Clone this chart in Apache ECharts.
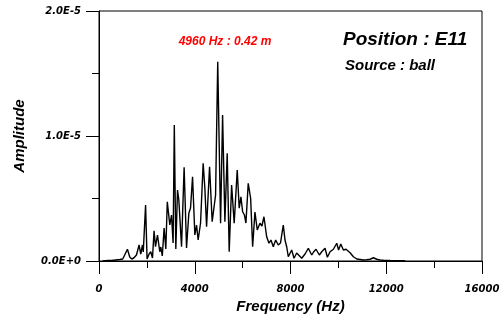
<!DOCTYPE html>
<html>
<head>
<meta charset="utf-8">
<script src="https://cdn.jsdelivr.net/npm/echarts@6/dist/echarts.min.js"></script>
<style>html,body{margin:0;padding:0;background:#fff;}#c{width:504px;height:320px;}</style>
</head>
<body>
<div id="c"></div>
<script>
// Frequency (Hz)
var freqHz = [150,364,531,699,866,992,1075,1188,1284,1368,1452,1565,1619,1674,1745,1816,1849,1946,2008,2092,
  2163,2234,2301,2360,2443,2540,2582,2644,2720,2791,2853,2958,3029,3096,3146,3209,3280,3335,3448,3556,
  3657,3753,3824,3908,4004,4075,4142,4243,4351,4422,4494,4619,4728,4870,4960,5079,5163,5259,5356,5439,
  5540,5648,5774,5858,5929,6000,6075,6138,6234,6335,6418,6515,6611,6724,6807,6891,7004,7100,7184,7280,
  7381,7489,7582,7699,7770,7841,7908,8050,8146,8259,8326,8468,8607,8745,8887,8962,9067,9205,9305,9443,
  9540,9653,9791,9862,9933,10008,10100,10209,10322,10489,10627,10770,10908,11046,11180,11326,11464,11606,11744,11883,
  12163,12498,12791];
// Amplitude in units of 1E-5
var ampE5 = [0,0.004,0.004,0.008,0.012,0.016,0.024,0.094,0.032,0.016,0.024,0.048,0.032,0.128,0.056,0.128,0.072,0.448,0.016,0.056,
  0.074,0.024,0.242,0.114,0.208,0.074,0.112,0.04,0.264,0.096,0.474,0.288,0.368,0.144,1.088,0.096,0.568,0.488,0.114,0.75,
  0.104,0.382,0.424,0.674,0.208,0.288,0.168,0.304,0.782,0.584,0.274,0.754,0.314,0.528,1.594,0.302,1.168,0.314,0.862,0.074,
  0.608,0.302,0.728,0.422,0.514,0.394,0.368,0.304,0.622,0.502,0.114,0.392,0.248,0.302,0.28,0.354,0.194,0.142,0.168,0.114,
  0.168,0.128,0.144,0.288,0.168,0.114,0.034,0.088,0.022,0.064,0.074,0.022,0.056,0.102,0.048,0.072,0.094,0.048,0.074,0.102,
  0.03,0.074,0.094,0.08,0.142,0.088,0.136,0.088,0.094,0.066,0.034,0.016,0.012,0.008,0.01,0.014,0.026,0.014,0.008,0.006,
  0.004,0.003,0.002];
var AMP_UNIT = 1e-5;
var xTickLabels = ['0','4000','8000','12000','16000'];
var yTickLabels = ['0.0E+0','1.0E-5','2.0E-5'];
var annotation = '4960 Hz : 0.42 m';
var titleText = 'Position : E11';
var sourceText = 'Source : ball';

var data = freqHz.map(function(f, i){ return [f, ampE5[i] * AMP_UNIT]; });

var tickFont = {fontFamily:'DejaVu Sans', fontWeight:'bold', fontStyle:'italic', fontSize:10, color:'#000'};
var nameFont = {fontFamily:'Liberation Sans', fontWeight:'bold', fontStyle:'italic', fontSize:15, color:'#000'};

var chart = echarts.init(document.getElementById('c'), null, {renderer:'canvas'});
chart.setOption({
  animation:false,
  backgroundColor:'#fff',
  grid:{left:99, right:22, top:11, bottom:59, show:true, borderColor:'#000', borderWidth:1, containLabel:false},
  xAxis:{
    type:'value', min:0, max:16000, interval:4000,
    name:'Frequency (Hz)', nameLocation:'middle', nameGap:32, nameTextStyle:nameFont,
    axisLine:{show:true, onZero:false, lineStyle:{color:'#000', width:1}},
    axisTick:{show:true, inside:false, length:13, lineStyle:{color:'#000', width:1}},
    minorTick:{show:true, splitNumber:2, length:7, lineStyle:{color:'#000', width:1}},
    splitLine:{show:false},
    axisLabel:Object.assign({margin:23, formatter:function(v){ return xTickLabels[Math.round(v/4000)]; }}, tickFont)
  },
  yAxis:{
    type:'value', min:0, max:2e-5, interval:1e-5,
    name:'Amplitude', nameLocation:'middle', nameGap:72, nameRotate:90, nameTextStyle:nameFont,
    axisLine:{show:true, onZero:false, lineStyle:{color:'#000', width:1}},
    axisTick:{show:true, inside:false, length:13, lineStyle:{color:'#000', width:1}},
    minorTick:{show:true, splitNumber:2, length:7, lineStyle:{color:'#000', width:1}},
    splitLine:{show:false},
    axisLabel:Object.assign({margin:18, formatter:function(v){ return yTickLabels[Math.round(v/1e-5)]; }}, tickFont)
  },
  series:[{
    type:'line', data:data, showSymbol:false, symbol:'none', clip:true,
    lineStyle:{color:'#000', width:1.4}
  }],
  graphic:[
    {type:'text', x:225, y:42, style:{text:annotation, align:'center', verticalAlign:'middle',
      fill:'#ff0000', font:'italic bold 12px "Liberation Sans"'}},
    {type:'text', x:343, y:40, style:{text:titleText, align:'left', verticalAlign:'middle',
      fill:'#000', font:'italic bold 19px "Liberation Sans"'}},
    {type:'text', x:345, y:66, style:{text:sourceText, align:'left', verticalAlign:'middle',
      fill:'#000', font:'italic bold 15px "Liberation Sans"'}}
  ]
});
</script>
</body>
</html>
